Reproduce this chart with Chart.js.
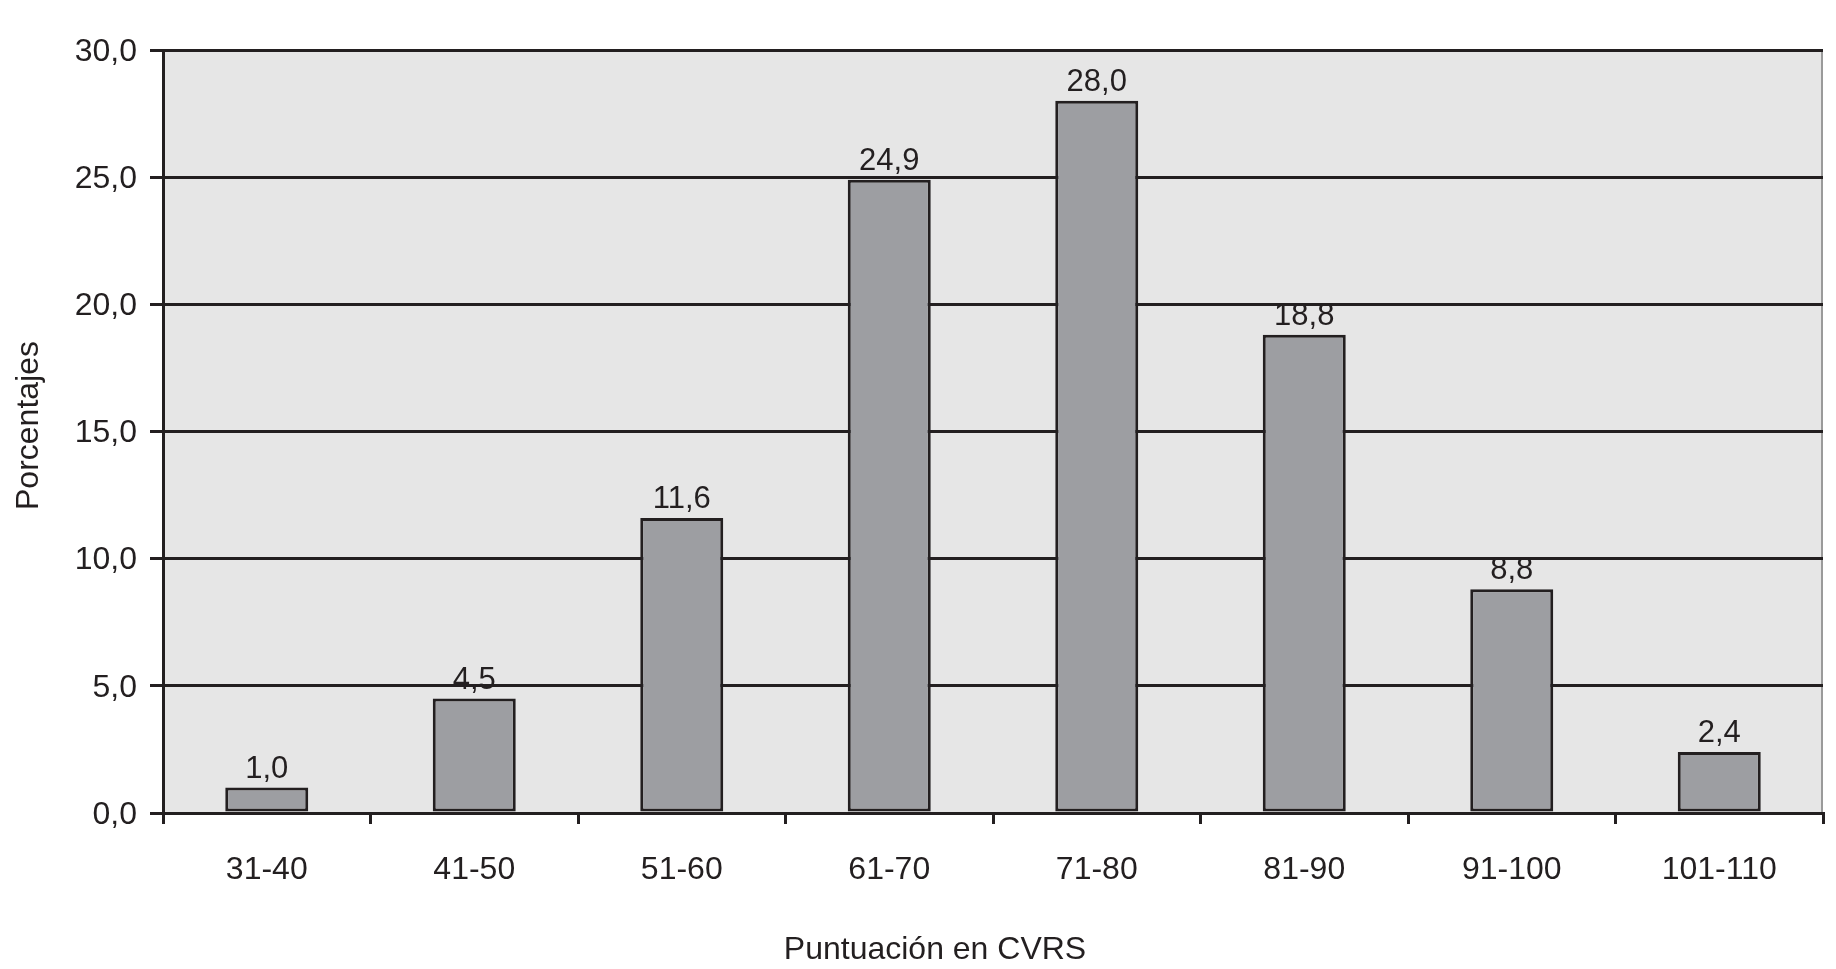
<!DOCTYPE html>
<html>
<head>
<meta charset="utf-8">
<title>Puntuación en CVRS</title>
<script src="https://cdn.jsdelivr.net/npm/chart.js@4/dist/chart.umd.min.js"></script>
<style>
  html, body { margin: 0; padding: 0; background: #ffffff; }
  canvas { display: block; }
</style>
</head>
<body>
<canvas id="cvrsChart" width="1836" height="969"></canvas>
<script>
// Distribution of CVRS scores (percentages)
const categories = ['31-40', '41-50', '51-60', '61-70', '71-80', '81-90', '91-100', '101-110'];
const percentages = [1.0, 4.5, 11.6, 24.9, 28.0, 18.8, 8.8, 2.4];
const yTickLabels = ['0,0', '5,0', '10,0', '15,0', '20,0', '25,0', '30,0'];
const xTitle = 'Puntuación en CVRS';
const yTitle = 'Porcentajes';

const ink = '#231f20';
const fontFamily = "'Liberation Sans', Arial, Helvetica, sans-serif";

// Grey plot background and thin right edge
const plotBackground = {
    id: 'plotBackground',
    beforeDraw(chart) {
        const { ctx, chartArea: a } = chart;
        ctx.save();
        ctx.fillStyle = '#e6e6e6';
        ctx.fillRect(a.left, a.top, a.right - a.left, a.bottom - a.top);
        ctx.strokeStyle = '#9a9a9a';
        ctx.lineWidth = 2;
        ctx.beginPath();
        ctx.moveTo(a.right - 1, a.top);
        ctx.lineTo(a.right - 1, a.bottom);
        ctx.stroke();
        ctx.restore();
    }
};

// Value labels above each bar, decimal comma
const valueLabels = {
    id: 'valueLabels',
    afterDatasetsDraw(chart) {
        const { ctx } = chart;
        const meta = chart.getDatasetMeta(0);
        ctx.save();
        ctx.fillStyle = ink;
        ctx.font = '31px ' + fontFamily;
        ctx.textAlign = 'center';
        ctx.textBaseline = 'alphabetic';
        meta.data.forEach((bar, i) => {
            const txt = percentages[i].toFixed(1).replace('.', ',');
            ctx.fillText(txt, bar.x, bar.y - 10);
        });
        ctx.restore();
    }
};

// Axis titles placed as in the source figure
const axisTitles = {
    id: 'axisTitles',
    afterDraw(chart) {
        const { ctx, chartArea: a } = chart;
        ctx.save();
        ctx.fillStyle = ink;
        ctx.font = '32px ' + fontFamily;
        ctx.textAlign = 'center';
        ctx.textBaseline = 'middle';
        ctx.fillText(xTitle, 935, 950);
        ctx.translate(29, (a.top + a.bottom) / 2 - 6);
        ctx.rotate(-Math.PI / 2);
        ctx.fillText(yTitle, 0, 0);
        ctx.restore();
    }
};

new Chart(document.getElementById('cvrsChart'), {
    type: 'bar',
    data: {
        labels: categories,
        datasets: [{
            data: percentages,
            backgroundColor: '#9d9ea2',
            borderColor: ink,
            borderWidth: 3,
            borderSkipped: false,
            barPercentage: 0.4,
            categoryPercentage: 1.0
        }]
    },
    options: {
        responsive: false,
        animation: false,
        layout: {
            padding: { top: 50, right: 13, left: 0, bottom: 0 }
        },
        plugins: {
            legend: { display: false },
            tooltip: { enabled: false }
        },
        scales: {
            x: {
                grid: {
                    drawOnChartArea: false,
                    drawTicks: true,
                    tickLength: 11,
                    color: ink,
                    lineWidth: 3
                },
                border: { color: ink, width: 3 },
                ticks: {
                    color: ink,
                    padding: 27,
                    font: { family: fontFamily, size: 32 }
                },
                afterFit(scale) { scale.height = 156; }
            },
            y: {
                min: 0,
                max: 30,
                grid: {
                    color: ink,
                    lineWidth: 3,
                    tickLength: 13
                },
                border: { color: ink, width: 3 },
                ticks: {
                    stepSize: 5,
                    color: ink,
                    padding: 13,
                    labelOffset: 2,
                    font: { family: fontFamily, size: 32 },
                    callback: (v, i) => yTickLabels[i]
                },
                afterFit(scale) { scale.width = 163; }
            }
        }
    },
    plugins: [plotBackground, valueLabels, axisTitles]
});
</script>
</body>
</html>
